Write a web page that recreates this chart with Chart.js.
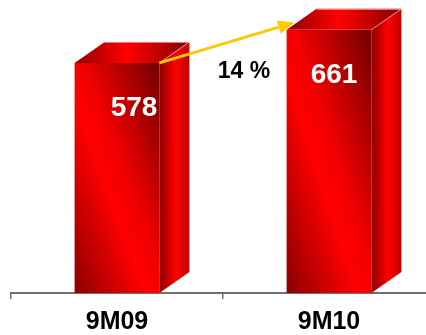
<!DOCTYPE html>
<html><head><meta charset="utf-8">
<script src="https://cdn.jsdelivr.net/npm/chart.js@4"></script>
<style>html,body{margin:0;padding:0;overflow:hidden;background:#fff;width:426px;height:335px}</style>
</head><body>
<canvas id="c" width="435" height="345"></canvas>
<script>
const categories = ['9M09', '9M10'];
const values = [578, 661];
const valueLabels = ['578', '661'];
const growthLabel = '14 %';

// style-only settings
const labelShiftX = [17, 5];
const depthX = 30, depthY = 21;

function frontGradient(ctx, x0, y0, x1, y1) {
  const w = x1 - x0, h = y1 - y0;
  const cx = (x0 + x1) / 2, cy = (y0 + y1) / 2;
  const L = Math.hypot(w, h);
  const k = w * h / L;
  const ux = h / L, uy = -w / L;
  const g = ctx.createLinearGradient(cx - k * ux, cy - k * uy, cx + k * ux, cy + k * uy);
  g.addColorStop(0, '#8a0000');
  g.addColorStop(0.42, '#ff0000');
  g.addColorStop(0.55, '#f20000');
  g.addColorStop(1, '#700000');
  return g;
}

const bar3d = {
  id: 'bar3d',
  afterDatasetsDraw(chart) {
    const ctx = chart.ctx;
    const meta = chart.getDatasetMeta(0);
    ctx.save();
    meta.data.forEach((el, i) => {
      const x0 = el.x - el.width / 2, x1 = el.x + el.width / 2;
      const top = el.y, bot = el.base;
      ctx.fillStyle = frontGradient(ctx, x0, top, x1, bot);
      ctx.fillRect(x0, top, x1 - x0, bot - top);
      let g = ctx.createLinearGradient(x1, 0, x1 + depthX, 0);
      g.addColorStop(0, '#8e0000');
      g.addColorStop(0.55, '#ff0000');
      g.addColorStop(1, '#c00000');
      ctx.fillStyle = g;
      ctx.beginPath();
      ctx.moveTo(x1, bot); ctx.lineTo(x1 + depthX, bot - depthY);
      ctx.lineTo(x1 + depthX, top - depthY); ctx.lineTo(x1, top);
      ctx.closePath(); ctx.fill();
      g = ctx.createLinearGradient(x0, 0, x1 + depthX, 0);
      g.addColorStop(0, '#900000');
      g.addColorStop(0.45, '#ff0000');
      g.addColorStop(0.8, '#b00000');
      g.addColorStop(1, '#800000');
      ctx.fillStyle = g;
      ctx.beginPath();
      ctx.moveTo(x0, top); ctx.lineTo(x0 + depthX, top - depthY);
      ctx.lineTo(x1 + depthX, top - depthY); ctx.lineTo(x1, top);
      ctx.closePath(); ctx.fill();
      ctx.strokeStyle = 'rgba(255,170,170,0.8)';
      ctx.lineWidth = 1;
      ctx.beginPath();
      ctx.moveTo(x0 + depthX, top - depthY + 0.5); ctx.lineTo(x1 + depthX, top - depthY + 0.5);
      ctx.moveTo(x1, top); ctx.lineTo(x1 + depthX, top - depthY);
      ctx.stroke();
      ctx.fillStyle = '#ffffff';
      ctx.font = 'bold 28px "Liberation Sans", Arial, sans-serif';
      ctx.textAlign = 'center';
      ctx.textBaseline = 'middle';
      ctx.fillText(valueLabels[i], el.x + labelShiftX[i], top + 45);
    });
    const a = meta.data[0], b = meta.data[1];
    const sx = a.x + a.width / 2, sy = a.y;
    const bx0 = b.x - b.width / 2;
    const tx = bx0 + depthX * 0.25, ty = b.y - depthY * 0.35;
    const ang = Math.atan2(ty - sy, tx - sx);
    const hl = 16, hw = 7;
    const lx = tx - hl * Math.cos(ang), ly = ty - hl * Math.sin(ang);
    ctx.strokeStyle = '#ffc800';
    ctx.fillStyle = '#ffc800';
    ctx.lineWidth = 3;
    ctx.beginPath(); ctx.moveTo(sx, sy); ctx.lineTo(lx, ly); ctx.stroke();
    ctx.beginPath();
    ctx.moveTo(tx, ty);
    ctx.lineTo(lx + hw * Math.sin(ang), ly - hw * Math.cos(ang));
    ctx.lineTo(lx - hw * Math.sin(ang), ly + hw * Math.cos(ang));
    ctx.closePath(); ctx.fill();
    ctx.fillStyle = '#000000';
    ctx.font = 'bold 23px "Liberation Sans", Arial, sans-serif';
    ctx.textAlign = 'center';
    ctx.textBaseline = 'middle';
    ctx.fillText(growthLabel, (a.x + b.x) / 2 + 21, b.y + 42);
    ctx.restore();
  }
};

new Chart(document.getElementById('c'), {
  type: 'bar',
  data: {
    labels: categories,
    datasets: [{
      data: values,
      backgroundColor: 'rgba(0,0,0,0)',
      borderWidth: 0,
      barPercentage: 0.4,
      categoryPercentage: 1
    }]
  },
  options: {
    responsive: false,
    animation: false,
    events: [],
    layout: { padding: { left: 11, right: 0, top: 0, bottom: 0 } },
    plugins: { legend: { display: false }, tooltip: { enabled: false } },
    scales: {
      y: { display: false, min: 0, max: 736 },
      x: {
        offset: true,
        grid: { display: true, drawOnChartArea: false, tickLength: 6, color: '#707070', lineWidth: 1.5 },
        border: { display: true, color: '#707070', width: 2 },
        ticks: { color: '#000', font: { family: '"Liberation Sans", Arial, sans-serif', size: 25, weight: 'bold' }, padding: 8 }
      }
    }
  },
  plugins: [bar3d]
});
</script>
</body></html>
